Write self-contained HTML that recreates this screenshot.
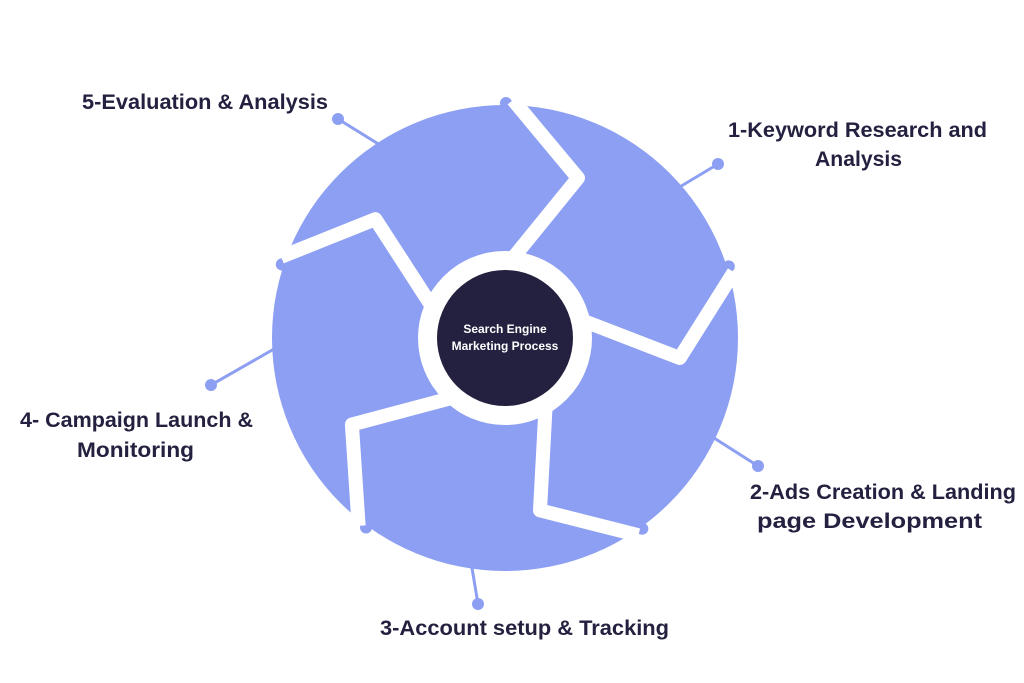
<!DOCTYPE html>
<html><head><meta charset="utf-8"><style>
html,body{margin:0;padding:0;background:#fff;width:1024px;height:683px;overflow:hidden;}
svg{display:block}
text{font-family:"Liberation Sans",sans-serif;font-weight:bold;fill:#23213f;font-size:21px}
</style></head><body>
<svg width="1024" height="683" viewBox="0 0 1024 683">
<g stroke="#8c9ff2" stroke-width="3" fill="#8c9ff2">
<line x1="338" y1="119" x2="380" y2="145"/><circle cx="338" cy="119" r="6" stroke="none"/>
<line x1="718" y1="164" x2="678" y2="188"/><circle cx="718" cy="164" r="6" stroke="none"/>
<line x1="758" y1="466" x2="714" y2="438"/><circle cx="758" cy="466" r="6" stroke="none"/>
<line x1="478" y1="604" x2="472" y2="568"/><circle cx="478" cy="604" r="6" stroke="none"/>
<line x1="211" y1="385" x2="274" y2="349"/><circle cx="211" cy="385" r="6" stroke="none"/>
</g>
<circle cx="505" cy="338" r="233" fill="#8c9ff2"/>
<g id="sep">
<line x1="563" y1="188" x2="506" y2="103" stroke="#8c9ff2" stroke-width="12" stroke-linecap="round"/>
<polyline points="513,258 578,178 513,100" fill="none" stroke="#fff" stroke-width="14" stroke-linejoin="round" stroke-linecap="butt"/>
</g>
<use href="#sep" transform="rotate(72 505 338)"/>
<use href="#sep" transform="rotate(144 505 338)"/>
<use href="#sep" transform="rotate(216 505 338)"/>
<use href="#sep" transform="rotate(288 505 338)"/>
<circle cx="505" cy="338" r="87" fill="#fff"/>
<circle cx="505" cy="338" r="68" fill="#23213f"/>
<text x="505" y="333" text-anchor="middle" style="font-size:12px;fill:#fff">Search Engine</text>
<text x="505" y="350" text-anchor="middle" style="font-size:12px;fill:#fff">Marketing Process</text>
<text x="82" y="109" textLength="246" lengthAdjust="spacingAndGlyphs">5-Evaluation &amp; Analysis</text>
<text x="728" y="137" textLength="259" lengthAdjust="spacingAndGlyphs">1-Keyword Research and</text>
<text x="815" y="166" textLength="87" lengthAdjust="spacingAndGlyphs">Analysis</text>
<text x="750" y="499" textLength="266" lengthAdjust="spacingAndGlyphs">2-Ads Creation &amp; Landing</text>
<text x="757" y="528" textLength="225" lengthAdjust="spacingAndGlyphs">page Development</text>
<text x="380" y="635" textLength="289" lengthAdjust="spacingAndGlyphs">3-Account setup &amp; Tracking</text>
<text x="20" y="427" textLength="233" lengthAdjust="spacingAndGlyphs">4- Campaign Launch &amp;</text>
<text x="77" y="457" textLength="117" lengthAdjust="spacingAndGlyphs">Monitoring</text>
</svg>
</body></html>
